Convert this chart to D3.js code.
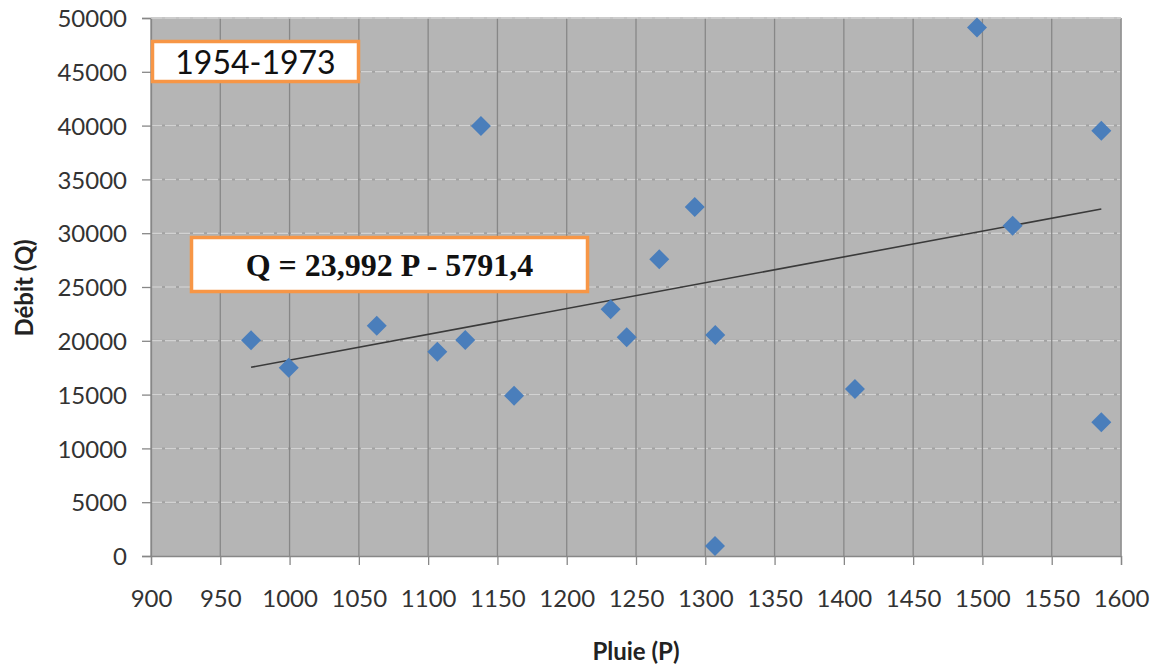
<!DOCTYPE html>
<html><head><meta charset="utf-8">
<script src="https://cdn.jsdelivr.net/npm/d3@7"></script>
<style>body{margin:0;background:#fff}svg{display:block}</style>
</head><body><svg id="c" width="1158" height="667"></svg>
<script>
const pluie = [972.2, 999.4, 1062.9, 1106.6, 1126.8, 1138.1, 1162.0, 1231.7, 1243.3, 1266.8, 1292.4, 1307.2, 1307.0, 1408.0, 1496.1, 1521.8, 1585.8, 1585.8];
const debit = [20050, 17500, 21400, 18990, 20075, 39960, 14900, 22930, 20330, 27575, 32440, 20540, 930, 15520, 49120, 30700, 39530, 12430];
const xTicks = [900, 950, 1000, 1050, 1100, 1150, 1200, 1250, 1300, 1350, 1400, 1450, 1500, 1550, 1600];
const yTicks = [0, 5000, 10000, 15000, 20000, 25000, 30000, 35000, 40000, 45000, 50000];
const slope = 23.992, intercept = -5791.4;
const titleText = "1954-1973";
const eqText = "Q = 23,992 P - 5791,4";
const xTitle = "Pluie (P)";
const yTitle = "Débit (Q)";

const svg = d3.select("#c");
const L = 151, R = 1121, T = 18, B = 556;
const x = d3.scaleLinear().domain([900, 1600]).range([L, R]);
const y = d3.scaleLinear().domain([0, 50000]).range([B, T]);
const font = "Lato, 'Open Sans', sans-serif";

svg.append("rect").attr("x", L).attr("y", T).attr("width", R - L).attr("height", B - T).attr("fill", "#b5b5b5");

// horizontal grid
const hg = svg.append("g");
yTicks.filter(v => v > 0).forEach(v => {
  hg.append("line").attr("x1", L).attr("x2", R).attr("y1", y(v)).attr("y2", y(v))
    .attr("stroke", "#a2a2a2").attr("stroke-width", 2);
  hg.append("line").attr("x1", L).attr("x2", R).attr("y1", y(v)).attr("y2", y(v))
    .attr("stroke", "#d2d2d2").attr("stroke-width", 1.5).attr("stroke-dasharray", "11,3");
});
// vertical grid
xTicks.forEach(v => {
  svg.append("line").attr("x1", x(v)).attr("x2", x(v)).attr("y1", T).attr("y2", B)
    .attr("stroke", "#878787").attr("stroke-width", 1.3);
});

// axes
const yAxis = d3.axisLeft(y).tickValues(yTicks).tickSize(9).tickPadding(15).tickFormat(d3.format("d"));
const gy = svg.append("g").attr("transform", `translate(${L},0)`).call(yAxis);
gy.select(".domain").attr("stroke", "#878787").attr("stroke-width", 1.3);
gy.selectAll(".tick line").attr("stroke", "#878787").attr("stroke-width", 1.3);
gy.selectAll("text").attr("font-family", font).attr("font-size", 24).attr("fill", "#333").attr("dy", "0.36em");

const xAxis = d3.axisBottom(x).tickValues(xTicks).tickSize(9).tickPadding(25).tickFormat(d3.format("d"));
const gx = svg.append("g").attr("transform", `translate(0,${B})`).call(xAxis);
gx.select(".domain").attr("stroke", "#878787").attr("stroke-width", 1.3);
gx.selectAll(".tick line").attr("stroke", "#878787").attr("stroke-width", 1.3);
gx.selectAll("text").attr("font-family", font).attr("font-size", 24).attr("fill", "#333").attr("dy", "0.71em");

// right/top border
svg.append("line").attr("x1", R).attr("x2", R).attr("y1", T).attr("y2", B).attr("stroke", "#999").attr("stroke-width", 1.3);
svg.append("line").attr("x1", L).attr("x2", R).attr("y1", T).attr("y2", T).attr("stroke", "#cfcfcf").attr("stroke-width", 1.3);

// trend line
const pmin = d3.min(pluie), pmax = d3.max(pluie);
svg.append("line").attr("x1", x(pmin)).attr("y1", y(slope * pmin + intercept))
  .attr("x2", x(pmax)).attr("y2", y(slope * pmax + intercept))
  .attr("stroke", "#3a3a3a").attr("stroke-width", 1.6);

// points
const data = pluie.map((p, i) => ({p, q: debit[i]}));
svg.append("g").selectAll("path").data(data).join("path")
  .attr("transform", d => `translate(${x(d.p)},${y(d.q)})`)
  .attr("d", "M0,-10L10,0L0,10L-10,0Z")
  .attr("fill", "#4a7ebb");

// title box
svg.append("rect").attr("x", 152.5).attr("y", 41.5).attr("width", 206).attr("height", 40)
  .attr("fill", "#fff").attr("stroke", "#f79646").attr("stroke-width", 3.5);
svg.append("text").attr("x", 255.5).attr("y", 62).attr("dy", "0.36em").attr("text-anchor", "middle")
  .attr("font-family", font).attr("font-size", 32).attr("fill", "#111").text(titleText);

// equation box
svg.append("rect").attr("x", 191.5).attr("y", 237.5).attr("width", 396).attr("height", 54)
  .attr("fill", "#fff").attr("stroke", "#f79646").attr("stroke-width", 3.5);
svg.append("text").attr("x", 389.5).attr("y", 264.5).attr("dy", "0.35em").attr("text-anchor", "middle")
  .attr("font-family", "'Liberation Serif', 'Times New Roman', serif").attr("font-weight", "bold")
  .attr("font-size", 32).attr("fill", "#111").text(eqText);

// axis titles
svg.append("text").attr("x", 636).attr("y", 660).attr("text-anchor", "middle")
  .attr("font-family", font).attr("font-weight", "bold").attr("font-size", 24).attr("fill", "#222").text(xTitle);
svg.append("text").attr("transform", "translate(33,288) rotate(-90)").attr("text-anchor", "middle")
  .attr("font-family", font).attr("font-weight", "bold").attr("font-size", 24).attr("fill", "#222").text(yTitle);
</script></body></html>
